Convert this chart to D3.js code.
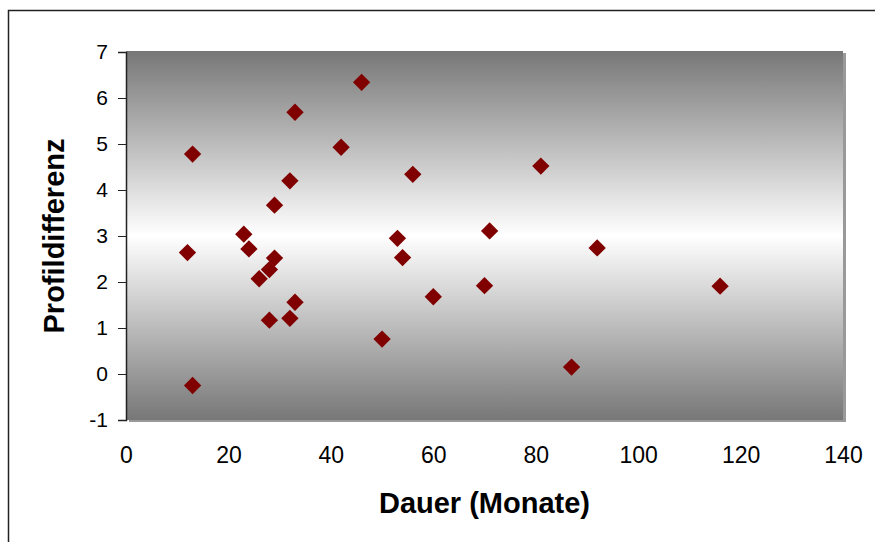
<!DOCTYPE html>
<html>
<head>
<meta charset="utf-8">
<script src="https://cdn.jsdelivr.net/npm/d3@7"></script>
<style>
  body { margin: 0; background: #fff; }
  svg { display: block; font-family: "Liberation Sans", Arial, sans-serif; }
</style>
</head>
<body>
<div id="chart"></div>
<script>
// values
var dauer = [12, 13, 13, 23, 24, 26, 28, 28, 29, 29, 32, 32, 33, 33, 42, 46, 50, 53, 54, 56, 60, 70, 71, 81, 87, 92, 116];
var profildifferenz = [2.64, 4.78, -0.25, 3.04, 2.72, 2.07, 2.27, 1.17, 2.52, 3.67, 4.2, 1.21, 5.69, 1.56, 4.93, 6.34, 0.76, 2.95, 2.53, 4.34, 1.68, 1.92, 3.11, 4.52, 0.15, 2.74, 1.91];
var xTicks = [0, 20, 40, 60, 80, 100, 120, 140];
var yTicks = [-1, 0, 1, 2, 3, 4, 5, 6, 7];
var xTitle = "Dauer (Monate)";
var yTitle = "Profildifferenz";

var W = 875, H = 542;
var plot = { left: 126, top: 52, right: 843, bottom: 420 };

var svg = d3.select("#chart").append("svg")
    .attr("width", W)
    .attr("height", H);

var defs = svg.append("defs");
var grad = defs.append("linearGradient")
    .attr("id", "bg")
    .attr("x1", 0).attr("y1", 0).attr("x2", 0).attr("y2", 1);
grad.append("stop").attr("offset", "0%").attr("stop-color", "#777777");
grad.append("stop").attr("offset", "50%").attr("stop-color", "#ffffff");
grad.append("stop").attr("offset", "100%").attr("stop-color", "#777777");

// outer chart border
svg.append("rect")
    .attr("x", 8.5).attr("y", 10.5)
    .attr("width", 900).attr("height", 600)
    .attr("fill", "none")
    .attr("stroke", "#222")
    .attr("stroke-width", 1.5);

var x = d3.scaleLinear().domain([0, 140]).range([plot.left, plot.right]);
var y = d3.scaleLinear().domain([-1, 7]).range([plot.bottom, plot.top]);

// plot area with a little shadow
svg.append("rect")
    .attr("x", plot.left + 3).attr("y", plot.top + 1)
    .attr("width", plot.right - plot.left).attr("height", plot.bottom - plot.top + 1)
    .attr("fill", "#999");
svg.append("rect")
    .attr("x", plot.left).attr("y", plot.top - 1)
    .attr("width", plot.right - plot.left).attr("height", plot.bottom - plot.top + 1)
    .attr("fill", "url(#bg)");

// y axis
var yAxis = svg.append("g")
    .attr("transform", "translate(" + plot.left + ",0)")
    .call(d3.axisLeft(y).tickValues(yTicks).tickSize(8).tickPadding(10).tickFormat(d3.format("d")));
yAxis.select(".domain").attr("stroke", "#222").attr("stroke-width", 1.5);
yAxis.selectAll(".tick line").attr("stroke", "#222");
yAxis.selectAll("text")
    .attr("font-size", 21)
    .attr("fill", "#000")
    .attr("font-family", "Liberation Sans, Arial, sans-serif")
    .text(function(d) { return d < 0 ? "-" + Math.abs(d) : d; });

// x axis: labels only
var xAxis = svg.append("g")
    .attr("transform", "translate(0," + plot.bottom + ")")
    .call(d3.axisBottom(x).tickValues(xTicks).tickSize(0).tickPadding(27));
xAxis.select(".domain").remove();
xAxis.selectAll("text")
    .attr("font-size", 23)
    .attr("fill", "#000")
    .attr("font-family", "Liberation Sans, Arial, sans-serif");

// markers
var points = dauer.map(function(d, i) { return { x: d, y: profildifferenz[i] }; });
var diamond = d3.symbol().type(d3.symbolSquare).size(150);
svg.append("g").selectAll("path")
    .data(points)
    .enter().append("path")
        .attr("d", diamond)
        .attr("transform", function(d) { return "translate(" + x(d.x) + "," + y(d.y) + ") rotate(45)"; })
        .attr("fill", "#800000");

// titles
svg.append("text")
    .attr("x", (plot.left + plot.right) / 2)
    .attr("y", 513)
    .attr("text-anchor", "middle")
    .attr("font-size", 29)
    .attr("font-weight", "bold")
    .text(xTitle);

svg.append("text")
    .attr("transform", "translate(64," + (plot.top + plot.bottom) / 2 + ") rotate(-90)")
    .attr("text-anchor", "middle")
    .attr("font-size", 29)
    .attr("font-weight", "bold")
    .text(yTitle);
</script>
</body>
</html>
